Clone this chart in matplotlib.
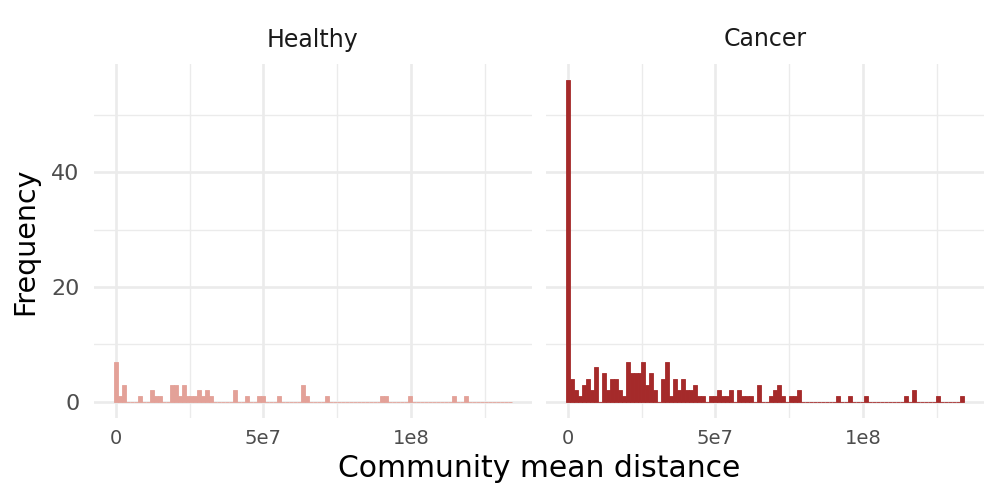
import numpy as np
import matplotlib
matplotlib.use('Agg')
import matplotlib.pyplot as plt

########################################################################################################################
# DATA (histogram counts, 100 bins)

n_bins = 100
x_max = 1.335e8          # largest community mean distance (centre of last bin)

healthy_bins = [0, 1, 2, 6, 9, 10, 11, 14, 15, 16, 17, 18, 19, 20, 21, 22, 23, 24, 30, 33, 36, 37, 41,
                47, 48, 53, 67, 68, 74, 85, 88]
healthy_counts = [7, 1, 3, 1, 2, 1, 1, 3, 3, 1, 3, 1, 1, 1, 2, 1, 2, 1, 2, 1, 1, 1, 1,
                  3, 1, 1, 1, 1, 1, 1, 1]

cancer_bins = [0, 1, 2, 3, 4, 5, 6, 7, 9, 10, 11, 12, 13, 14, 15, 16, 17, 18, 19, 20, 21, 22,
               24, 25, 26, 27, 28, 29, 30, 31, 32, 33, 34, 36, 37, 38, 39, 40, 41, 43, 44, 45, 46,
               48, 51, 52, 53, 54, 56, 57, 58, 68, 71, 75, 85, 87, 93, 99]
cancer_counts = [56, 4, 2, 1, 3, 4, 2, 6, 5, 2, 4, 4, 2, 1, 7, 5, 5, 5, 7, 3, 5, 2,
                 4, 7, 1, 4, 2, 4, 2, 2, 3, 1, 1, 1, 1, 2, 1, 1, 2, 2, 1, 1, 1,
                 3, 1, 2, 3, 1, 1, 1, 2, 1, 1, 1, 1, 2, 1, 1]

panels = ['Healthy', 'Cancer']
colors = {'Healthy': '#E3A198', 'Cancer': '#A52A2A'}

x_ticks = [0, 5e7, 1e8]
x_tick_labels = ['0', '5e7', '1e8']
x_minor = [2.5e7, 7.5e7, 1.25e8]
y_ticks = [0, 20, 40]
y_minor = [10, 30, 50]

########################################################################################################################

def full_counts(bins, counts):
    arr = np.zeros(n_bins)
    arr[bins] = counts
    return arr


width = x_max / (n_bins - 1)
centers = np.arange(n_bins) * width
data = {'Healthy': full_counts(healthy_bins, healthy_counts),
        'Cancer': full_counts(cancer_bins, cancer_counts)}

lo, hi = -width / 2, x_max + width / 2
xpad = 0.05 * (hi - lo)
ymax = max(np.max(v) for v in data.values())

fig = plt.figure(figsize=(10, 5), dpi=100)
ax1 = fig.add_axes([0.094, 0.164, 0.4377, 0.708])
ax2 = fig.add_axes([0.546, 0.164, 0.4377, 0.708])

for ax, name in zip([ax1, ax2], panels):
    ax.bar(centers, data[name], width=width, color=colors[name], edgecolor=colors[name],
           linewidth=0.6, zorder=3)
    ax.set_xlim(lo - xpad, hi + xpad)
    ax.set_ylim(-0.05 * ymax, 1.05 * ymax)
    ax.set_xticks(x_ticks)
    ax.set_xticklabels(x_tick_labels)
    ax.set_xticks(x_minor, minor=True)
    ax.set_yticks(y_ticks)
    ax.set_yticks(y_minor, minor=True)
    ax.grid(which='major', color='#EBEBEB', linewidth=1.9, zorder=0)
    ax.grid(which='minor', color='#EBEBEB', linewidth=1.0, zorder=0)
    ax.set_axisbelow(True)
    for s in ax.spines.values():
        s.set_visible(False)
    ax.tick_params(which='both', length=0)
    ax.tick_params(axis='x', labelsize=14, labelcolor='#4D4D4D', pad=8)
    ax.tick_params(axis='y', labelsize=16, labelcolor='#4D4D4D', pad=10.5)
    pos = ax.get_position()
    fig.text((pos.x0 + pos.x1) / 2, 0.907, name, ha='center', va='baseline', fontsize=17, color='#1A1A1A')

ax2.set_yticklabels([])

fig.text(0.025, 0.518, 'Frequency', rotation=90, ha='center', va='center', fontsize=20.5)
fig.text(0.539, 0.046, 'Community mean distance', ha='center', va='baseline', fontsize=21.5)

plt.savefig('out.png', dpi=100)
plt.close()
